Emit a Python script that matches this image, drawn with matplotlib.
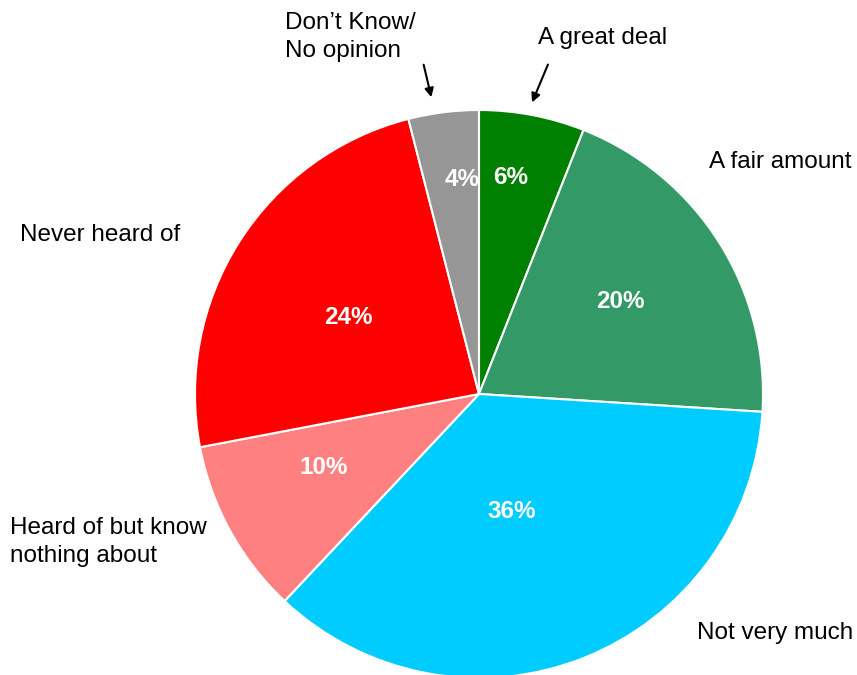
import matplotlib.pyplot as plt

# survey answers, clockwise from the top
categories = ["A great deal", "A fair amount", "Not very much",
              "Heard of but know\nnothing about", "Never heard of",
              "Don\u2019t Know/\nNo opinion"]
shares = [6, 20, 36, 10, 24, 4]
colors = ["#008000", "#339966", "#00CCFF", "#FF8080", "#FF0000", "#969696"]

W, H = 857, 675
plt.rcParams["font.family"] = ["Liberation Sans", "DejaVu Sans"]
fig = plt.figure(figsize=(W / 100, H / 100), dpi=100)
ax = fig.add_axes([0, 0, 1, 1])

ax.pie(shares, colors=colors, startangle=90, counterclock=False,
       center=(479, H - 394), radius=284, frame=True,
       wedgeprops=dict(edgecolor="white", linewidth=1.5))
ax.set_xlim(0, W)
ax.set_ylim(0, H)
ax.set_aspect("equal")
ax.axis("off")

# percent labels inside the slices (pixel positions, top-left origin)
pct_pos = [(511, 177), (620, 302), (512, 511), (324, 468), (348, 318), (462, 180)]
for v, (x, y) in zip(shares, pct_pos):
    ax.text(x, H - y, f"{v}%", color="white", fontsize=17.5, fontweight="bold",
            ha="center", va="center")

# category labels around the pie
lab_pos = [(538, 38), (709, 162), (697, 633), (10, 542), (20, 235), (285, 37)]
for name, (x, y) in zip(categories, lab_pos):
    ax.text(x, H - y, name, fontsize=17.5, ha="left", va="center",
            linespacing=1.4)

# arrows for the two thin slices
arrow = dict(arrowstyle="-|>", color="black", lw=1.5, mutation_scale=13)
ax.annotate("", xy=(432, H - 100), xytext=(423, H - 62), arrowprops=arrow)
ax.annotate("", xy=(531, H - 105), xytext=(549, H - 62), arrowprops=arrow)

fig.savefig("out.png", dpi=100)
